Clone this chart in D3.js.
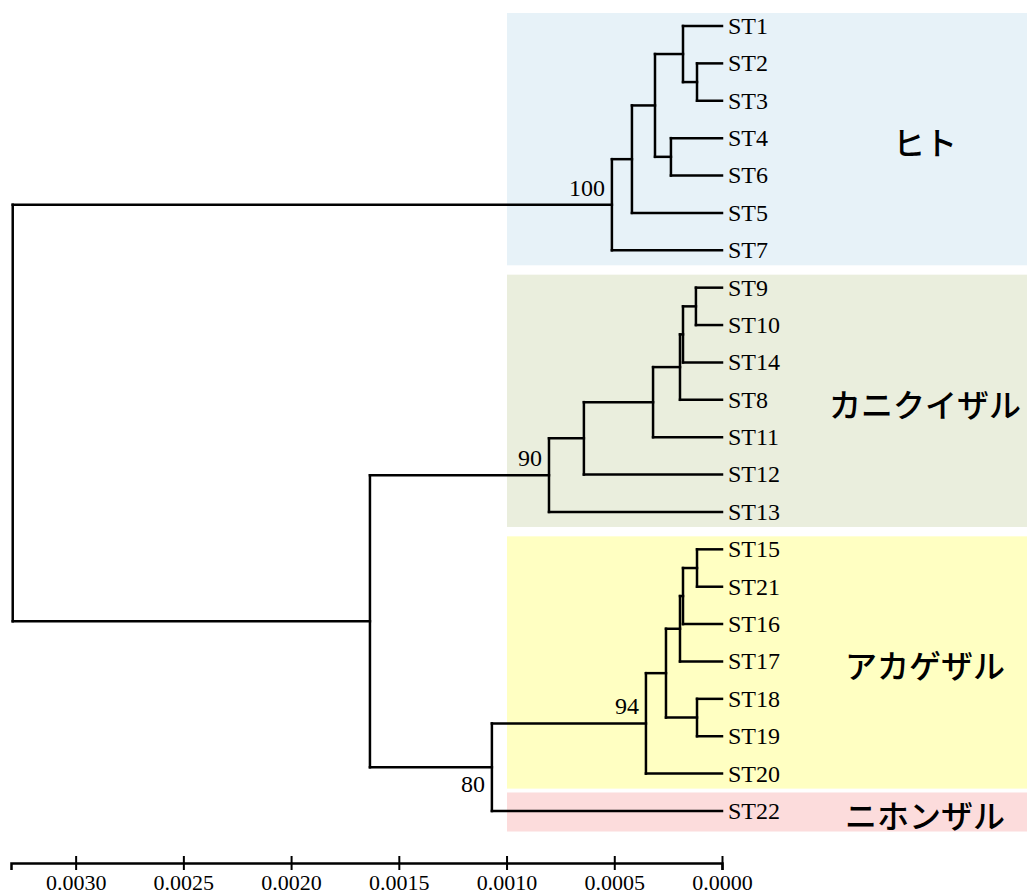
<!DOCTYPE html>
<html lang="ja">
<head>
    <meta charset="UTF-8">
    <title>系統樹</title>
    <script src="https://d3js.org/d3.v7.min.js"></script>
    <style>
        body { margin: 0; background: #fff; }
        svg { display: block; }
        .leaf, .support, .axis text { font-family: "Liberation Serif", "Times New Roman", serif; fill: #000; }
        .clade { font-family: "Noto Sans CJK JP", sans-serif; font-weight: 500; fill: #000; }
    </style>
</head>
<body>
<div id="tree"></div>
<script>
    // Leaf order, top to bottom
    const leafOrder = ["ST1", "ST2", "ST3", "ST4", "ST6", "ST5", "ST7",
        "ST9", "ST10", "ST14", "ST8", "ST11", "ST12", "ST13",
        "ST15", "ST21", "ST16", "ST17", "ST18", "ST19", "ST20", "ST22"];

    // Internal nodes: name, children, height (distance from tips), bootstrap
    const nodeNames = ["h1", "h2", "h3", "h4", "h5", "h6",
        "c1", "c2", "c3", "c4", "c5", "c6",
        "r1", "r2", "r3", "r4", "r5", "r6", "j1", "j2", "root"];
    const nodeChildren = [
        ["ST2", "ST3"], ["ST1", "h1"], ["ST4", "ST6"], ["h2", "h3"], ["h4", "ST5"], ["h5", "ST7"],
        ["ST9", "ST10"], ["c1", "ST14"], ["c2", "ST8"], ["c3", "ST11"], ["c4", "ST12"], ["c5", "ST13"],
        ["ST15", "ST21"], ["r1", "ST16"], ["r2", "ST17"], ["ST18", "ST19"], ["r3", "r4"], ["r5", "ST20"],
        ["r6", "ST22"], ["c6", "j1"], ["h6", "j2"]];
    const nodeHeights = [0.000116, 0.000181, 0.000237, 0.000311, 0.000418, 0.000511,
        0.000121, 0.000181, 0.000195, 0.000320, 0.000641, 0.000803,
        0.000116, 0.000181, 0.000195, 0.000116, 0.000260, 0.000353,
        0.001068, 0.001634, 0.003292];
    const nodeSupport = [null, null, null, null, null, 100,
        null, null, null, null, null, 90,
        null, null, null, null, null, 94,
        80, null, null];

    // Coloured groups
    const groupNames = ["ヒト", "カニクイザル", "アカゲザル", "ニホンザル"];
    const groupFirst = ["ST1", "ST9", "ST15", "ST22"];
    const groupLast = ["ST7", "ST13", "ST20", "ST22"];
    const groupColors = ["#e7f2f8", "#eaeedd", "#ffffc2", "#fcdcdc"];

    // Axis ticks
    const tickValues = [0.0030, 0.0025, 0.0020, 0.0015, 0.0010, 0.0005, 0.0000];

    const width = 1029, height = 896;

    const svg = d3.select("#tree").append("svg")
        .attr("width", width).attr("height", height);

    const x = d3.scaleLinear().domain([0.0033, 0]).range([11, 722]);
    const y = d3.scalePoint().domain(leafOrder).range([26, 811]);

    // Build table for stratify
    const rows = [];
    nodeNames.forEach((n, i) => {
        nodeChildren[i].forEach(c => rows.push({ id: c, parent: n }));
    });
    rows.push({ id: "root", parent: null });
    const nodeIndex = new Map(nodeNames.map((n, i) => [n, i]));
    rows.forEach(r => {
        const i = nodeIndex.get(r.id);
        r.h = i === undefined ? 0 : nodeHeights[i];
        r.support = i === undefined ? null : nodeSupport[i];
    });

    const root = d3.stratify().id(d => d.id).parentId(d => d.parent)(rows);

    // y of leaves from order, internal nodes at middle of children
    root.eachAfter(d => {
        if (!d.children) d.y = y(d.id);
        else d.y = (d3.min(d.children, c => c.y) + d3.max(d.children, c => c.y)) / 2;
        d.x = x(d.data.h);
    });

    // group boxes
    const boxes = groupNames.map((name, i) => {
        let top = y(groupFirst[i]) - 13, bottom = y(groupLast[i]) + 15;
        if (bottom - top < 39) {
            const mid = (top + bottom) / 2;
            top = mid - 19.5; bottom = mid + 19.5;
        }
        return { name, top, bottom, color: groupColors[i] };
    });

    svg.append("g").selectAll("rect")
        .data(boxes)
        .join("rect")
        .attr("x", 507)
        .attr("width", width - 2 - 507)
        .attr("y", d => d.top)
        .attr("height", d => d.bottom - d.top)
        .attr("fill", d => d.color);

    svg.append("g").selectAll("text")
        .data(boxes)
        .join("text")
        .attr("class", "clade")
        .attr("x", 925)
        .attr("y", d => (d.top + d.bottom) / 2 + 2)
        .attr("text-anchor", "middle")
        .attr("dominant-baseline", "central")
        .attr("font-size", 32)
        .text(d => d.name);

    // branches
    const g = svg.append("g")
        .attr("fill", "none")
        .attr("stroke", "#000")
        .attr("stroke-width", 2.5)
        .attr("stroke-linecap", "square");

    g.selectAll("path.h")
        .data(root.descendants().filter(d => d.parent))
        .join("path")
        .attr("class", "h")
        .attr("d", d => `M${d.parent.x},${d.y}H${d.x}`);

    g.selectAll("path.v")
        .data(root.descendants().filter(d => d.children))
        .join("path")
        .attr("class", "v")
        .attr("d", d => `M${d.x},${d3.min(d.children, c => c.y)}V${d3.max(d.children, c => c.y)}`);

    // leaf labels
    svg.append("g").selectAll("text")
        .data(root.leaves())
        .join("text")
        .attr("class", "leaf")
        .attr("x", d => d.x + 6)
        .attr("y", d => d.y)
        .attr("dy", "0.33em")
        .attr("font-size", 24)
        .text(d => d.id);

    // bootstrap values
    const below = new Set(["j1"]);
    svg.append("g").selectAll("text")
        .data(root.descendants().filter(d => d.data.support != null))
        .join("text")
        .attr("class", "support")
        .attr("x", d => d.x - 7)
        .attr("y", d => below.has(d.id) ? d.y + 25 : d.y - 9)
        .attr("text-anchor", "end")
        .attr("font-size", 24)
        .text(d => d.data.support);

    // scale axis
    const axis = svg.append("g")
        .attr("class", "axis")
        .attr("transform", "translate(0,863)")
        .call(d3.axisBottom(x).tickValues(tickValues).tickFormat(d3.format(".4f")).tickSizeOuter(0).tickSize(7));

    axis.select(".domain").attr("stroke", "#000").attr("stroke-width", 2.5);
    axis.selectAll(".tick line").attr("y1", -7).attr("y2", 7).attr("stroke", "#000").attr("stroke-width", 2);
    axis.selectAll(".tick text")
        .attr("y", 27).attr("dy", 0)
        .attr("font-size", 22)
        .attr("font-family", "'Liberation Serif', 'Times New Roman', serif")
        .attr("fill", "#000");
</script>
</body>
</html>
